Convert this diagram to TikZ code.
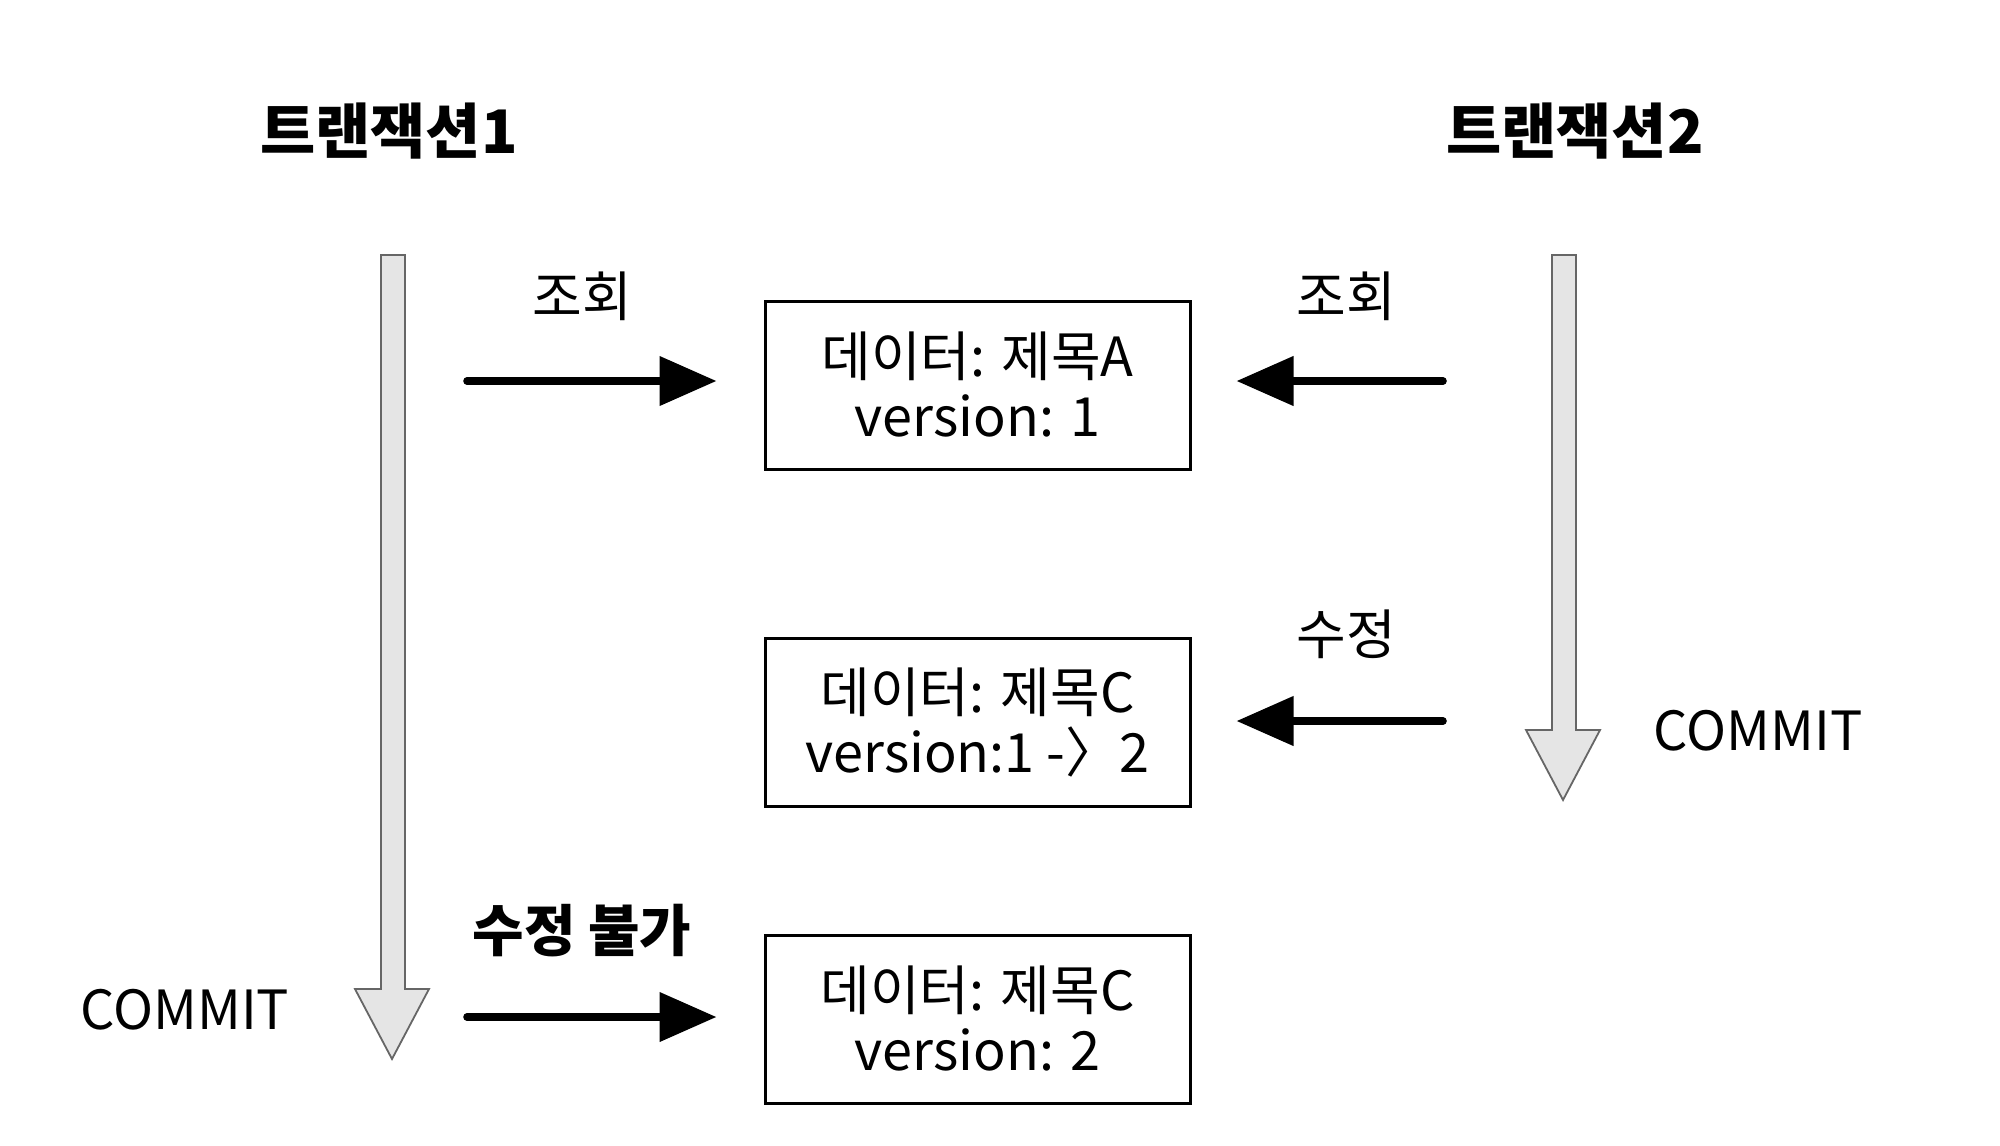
\documentclass[tikz,border=0pt]{standalone}
\usepackage{fontspec}
\setmainfont{Noto Sans CJK KR}
\usetikzlibrary{arrows.meta}
\tikzset{
  px/.style={x=0.5pt,y=-0.5pt},
  databox/.style={draw=black,line width=1.5pt,minimum width=212.5pt,minimum height=84pt,inner sep=0pt,align=center,font=\fontsize{27}{30}\selectfont},
  lbl/.style={font=\fontsize{27}{31}\selectfont,inner sep=0pt},
  title/.style={font=\fontsize{30}{34}\selectfont\bfseries,inner sep=0pt},
  blackarrow/.style={line width=3.8pt,line cap=round,-{Triangle[length=28.5pt,width=24pt]}},
  grayarrow/.style={fill=black!10,draw=black!60,line width=0.9pt,line join=miter},
}
\begin{document}
\begin{tikzpicture}[px]
\useasboundingbox (0,0) rectangle (2000,1145);
% titles
\node[title] (t1) at (389,131) {트랜잭션1};
\node[title] (t2) at (1575,131) {트랜잭션2};
% gray timeline arrows
\draw[grayarrow] (381,255) -- (405,255) -- (405,989) -- (429,989) -- (392,1059) -- (355,989) -- (381,989) -- cycle;
\draw[grayarrow] (1552,255) -- (1576,255) -- (1576,730) -- (1600,730) -- (1563,800) -- (1526,730) -- (1552,730) -- cycle;
% boxes
\node[databox] (b1) at (977.5,385) {\raisebox{1.5pt}{\parbox{200pt}{\centering 데이터: 제목A\\version: 1}}};
\node[databox] (b2) at (977.5,722.5) {\raisebox{1.5pt}{\parbox{200pt}{\centering 데이터: 제목C\\version:1 -〉2}}};
\node[databox] (b3) at (977.5,1019) {\raisebox{1.5pt}{\parbox{200pt}{\centering 데이터: 제목C\\version: 2}}};
% arrow tails
\coordinate (s1) at (467,381);
\coordinate (s2) at (1443,381);
\coordinate (s3) at (1443,721);
\coordinate (s4) at (467,1017);
\draw[blackarrow,shorten >=23.5pt] (s1) -- (s1 -| b1.west);
\draw[blackarrow,shorten >=22.5pt] (s2) -- (s2 -| b1.east);
\draw[blackarrow,shorten >=22.5pt] (s3) -- (s3 -| b2.east);
\draw[blackarrow,shorten >=23.5pt] (s4) -- (s4 -| b3.west);
% labels
\node[lbl] (l1) at (582,296) {조회};
\node[lbl] (l2) at (1346,296) {조회};
\node[lbl] (l3) at (1346,634) {수정};
\node[title,font=\fontsize{28}{32}\selectfont\bfseries] (l4) at (582,931) {수정 불가};
\node[lbl] (c2) at (1758,731) {COMMIT};
\node[lbl] (c1) at (185,1010) {COMMIT};
\end{tikzpicture}
\end{document}
